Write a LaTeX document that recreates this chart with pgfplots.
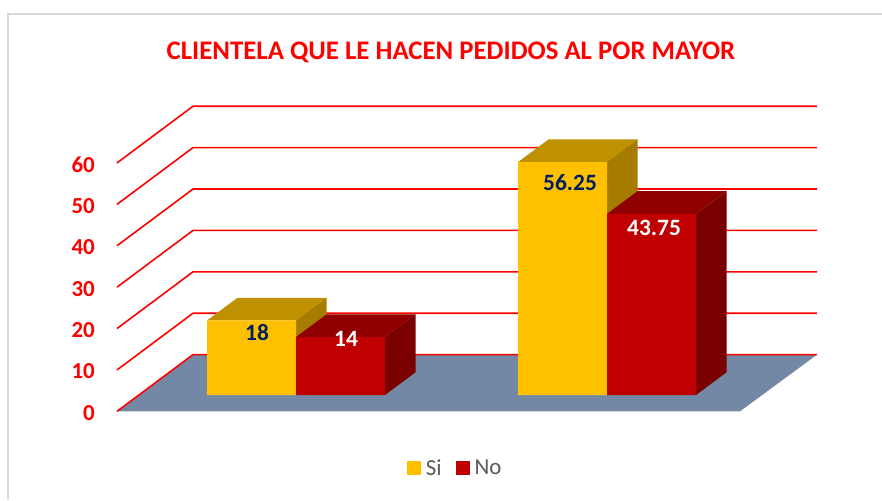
\documentclass[border=0pt]{standalone}
\usepackage{pgfplots}
\pgfplotsset{compat=1.18}
\usepackage{fontspec}
\setmainfont{Carlito}
\definecolor{ysi}{HTML}{FFC000}
\definecolor{ysitop}{HTML}{BF9000}
\definecolor{ysiside}{HTML}{A67C00}
\definecolor{rno}{HTML}{C00000}
\definecolor{rnotop}{HTML}{900000}
\definecolor{rnoside}{HTML}{7B0000}
\definecolor{floorc}{HTML}{7388A5}
\definecolor{navy}{HTML}{002060}
\definecolor{legtext}{HTML}{595959}
\definecolor{framec}{HTML}{D9D9D9}
\begin{document}
\begin{tikzpicture}
\begin{axis}[
  scale only axis,
  width=882bp, height=500bp,
  xmin=0, xmax=882,
  ymin=-25.362, ymax=95.411,
  axis line style={draw=none},
  tick style={draw=none},
  major tick length=0pt,
  xtick=\empty,
  ytick={-3.95,6.05,16.05,26.05,36.05,46.05,56.05},
  yticklabels={0,10,20,30,40,50,60},
  /pgf/number format/assume math mode=true,
  yticklabel style={font=\fontsize{23}{27}\selectfont\bfseries, text=red, xshift=95bp, yshift=-1.5bp, anchor=east, inner sep=0pt},
  title={CLIENTELA QUE LE HACEN PEDIDOS AL POR MAYOR},
  title style={at={(axis description cs:0.5113,0.884)}, anchor=center, yshift=0pt, font=\fontsize{26.9}{32}\selectfont\bfseries, text=red, inner sep=0pt},
  legend style={draw=none, fill=none, at={(axis description cs:0.516,0.064)}, anchor=center,
    legend columns=2, font=\fontsize{23}{27}\selectfont, text=legtext,
    /tikz/every odd column/.append style={column sep=3bp},
    /tikz/every even column/.append style={column sep=12bp}},
  legend cell align=left,
  legend image code/.code={\fill[#1] (0bp,-7bp) rectangle (14bp,7bp);},
]
% frame
\addplot[framec, line width=2bp, forget plot] coordinates {(8,-25.4)(8,92.03)(882,92.03)};
% floor
\addplot[fill=floorc, draw=none, forget plot] coordinates {(117,-3.95)(193,9.75)(817,9.75)(740,-3.95)} -- cycle;
% walls
\addplot[red, line width=1.6bp, forget plot] coordinates {(117,-3.95)(193,9.75)(817,9.75)};
\addplot[red, line width=1.6bp, forget plot] coordinates {(117,6.05)(193,19.75)(817,19.75)};
\addplot[red, line width=1.6bp, forget plot] coordinates {(117,16.05)(193,29.75)(817,29.75)};
\addplot[red, line width=1.6bp, forget plot] coordinates {(117,26.05)(193,39.75)(817,39.75)};
\addplot[red, line width=1.6bp, forget plot] coordinates {(117,36.05)(193,49.75)(817,49.75)};
\addplot[red, line width=1.6bp, forget plot] coordinates {(117,46.05)(193,59.75)(817,59.75)};
\addplot[red, line width=1.6bp, forget plot] coordinates {(117,56.05)(193,69.75)(817,69.75)};
% group 1 depth faces
\addplot[fill=ysitop, draw=none, forget plot] coordinates {(207,18)(296,18)(326.5,23.48)(237.5,23.48)} -- cycle;
\addplot[fill=ysiside, draw=none, forget plot] coordinates {(296,18)(326.5,23.48)(326.5,5.48)(296,0)} -- cycle;
\addplot[fill=rnotop, draw=none, forget plot] coordinates {(296,14)(385,14)(415.5,19.48)(326.5,19.48)} -- cycle;
\addplot[fill=rnoside, draw=none, forget plot] coordinates {(385,14)(415.5,19.48)(415.5,5.48)(385,0)} -- cycle;
% group 2 depth faces
\addplot[fill=ysitop, draw=none, forget plot] coordinates {(518,56.25)(607,56.25)(637.5,61.73)(548.5,61.73)} -- cycle;
\addplot[fill=ysiside, draw=none, forget plot] coordinates {(607,56.25)(637.5,61.73)(637.5,5.48)(607,0)} -- cycle;
\addplot[fill=rnotop, draw=none, forget plot] coordinates {(607,43.75)(696,43.75)(726.5,49.23)(637.5,49.23)} -- cycle;
\addplot[fill=rnoside, draw=none, forget plot] coordinates {(696,43.75)(726.5,49.23)(726.5,5.48)(696,0)} -- cycle;
% front faces
\addplot[ybar, bar width=89, bar shift=0pt, fill=ysi, draw=none] coordinates {(251.5,18)(562.5,56.25)};
\addlegendentry{Si}
\addplot[ybar, bar width=89, bar shift=0pt, fill=rno, draw=none] coordinates {(340.5,14)(651.5,43.75)};
\addlegendentry{No}
% value labels
\addplot[draw=none, mark=none, forget plot, point meta=explicit symbolic,
  nodes near coords, nodes near coords style={anchor=center, inner sep=0pt, text=navy, font=\fontsize{23.5}{28}\selectfont\bfseries}]
  table[x=x, y=y, meta=lab] {
x y lab
257 15.2 18
570 51.2 56.25
};
\addplot[draw=none, mark=none, forget plot, point meta=explicit symbolic,
  nodes near coords, nodes near coords style={anchor=center, inner sep=0pt, text=white, font=\fontsize{23.5}{28}\selectfont\bfseries}]
  table[x=x, y=y, meta=lab] {
x y lab
346 13.5 14
654 40.3 43.75
};
\end{axis}
\end{tikzpicture}
\end{document}
